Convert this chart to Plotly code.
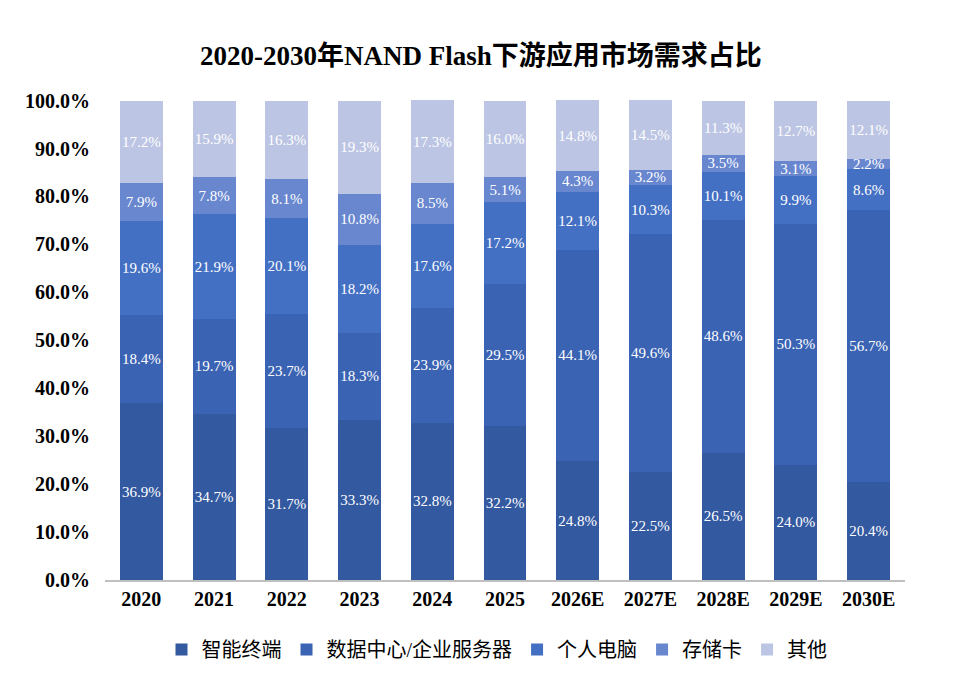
import plotly.graph_objects as go

years = ['2020', '2021', '2022', '2023', '2024', '2025', '2026E', '2027E', '2028E', '2029E', '2030E']

smart_terminal = [36.9, 34.7, 31.7, 33.3, 32.8, 32.2, 24.8, 22.5, 26.5, 24.0, 20.4]
data_center = [18.4, 19.7, 23.7, 18.3, 23.9, 29.5, 44.1, 49.6, 48.6, 50.3, 56.7]
personal_pc = [19.6, 21.9, 20.1, 18.2, 17.6, 17.2, 12.1, 10.3, 10.1, 9.9, 8.6]
memory_card = [7.9, 7.8, 8.1, 10.8, 8.5, 5.1, 4.3, 3.2, 3.5, 3.1, 2.2]
others = [17.2, 15.9, 16.3, 19.3, 17.3, 16.0, 14.8, 14.5, 11.3, 12.7, 12.1]

series = [
    ('智能终端', smart_terminal, '#3359a0'),
    ('数据中心/企业服务器', data_center, '#3b63b3'),
    ('个人电脑', personal_pc, '#4470c4'),
    ('存储卡', memory_card, '#6887cf'),
    ('其他', others, '#bcc5e3'),
]

serif = 'Liberation Serif, Times New Roman, Noto Sans CJK SC'

fig = go.Figure()
for name, vals, color in series:
    fig.add_trace(go.Bar(
        x=years, y=[v / 100 for v in vals], name=name,
        marker=dict(color=color, line=dict(width=0)),
        text=[f'{v:.1f}%' for v in vals], textposition='inside',
        insidetextanchor='middle', textangle=0, constraintext='none',
        textfont=dict(color='white', size=15, family=serif),
        cliponaxis=False,
    ))

# some columns add up to 100.1%, so leave a hair of room above 100%
fig.update_layout(
    barmode='stack',
    bargap=0.41,
    width=965, height=675,
    paper_bgcolor='white', plot_bgcolor='white',
    margin=dict(l=97, r=68, t=92, b=103),
    title=dict(text='<b>2020-2030年NAND Flash下游应用市场需求占比</b>',
               x=0.49, xanchor='center', y=0.929, yanchor='middle',
               font=dict(family=serif, size=27, color='black')),
    legend=dict(orientation='h', x=0.49, xanchor='center', y=-0.145, yanchor='middle',
                font=dict(family=serif, size=20, color='black'),
                traceorder='normal', itemwidth=30),
    xaxis=dict(showline=True, linecolor='#bfbfbf', linewidth=1.5, ticks='',
               tickfont=dict(family=serif, size=20, color='black', weight='bold')),
    yaxis=dict(range=[0, 1.0012], tickvals=[i / 10 for i in range(11)], tickformat='.1%',
               showgrid=False, zeroline=False, showline=False, ticks='', ticklabelstandoff=14,
               tickfont=dict(family=serif, size=20, color='black', weight='bold')),
)

fig.write_html('out.html')
